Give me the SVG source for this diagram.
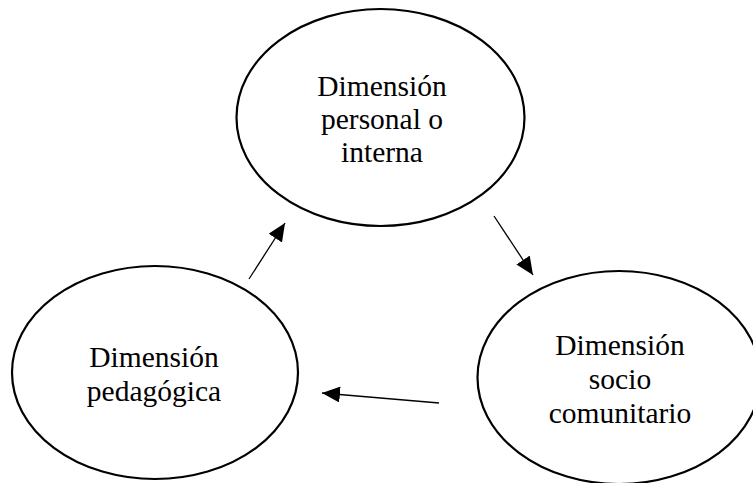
<svg xmlns="http://www.w3.org/2000/svg" width="753" height="483" viewBox="0 0 753 483">
<style>
.node ellipse{fill:#fff;stroke:#000;stroke-width:2.2}
.node text{font-family:"Liberation Serif","Times New Roman",serif;font-size:29.5px;fill:#000;text-anchor:middle}
.conn line{stroke:#000;stroke-width:1.3;marker-end:url(#ah)}
</style>
<defs>
<marker id="ah" markerUnits="userSpaceOnUse" markerWidth="18" markerHeight="16" refX="18" refY="8" orient="auto">
<path d="M0,0 L18,8 L0,16 z" fill="#000"/>
</marker>
</defs>
<rect width="753" height="483" fill="#fff"/>
<g id="n-personal" class="node">
<ellipse cx="380.5" cy="117.5" rx="144" ry="108.5"/>
<text x="382" y="96">Dimensión</text>
<text x="382" y="129">personal o</text>
<text x="382" y="162">interna</text>
</g>
<g id="n-pedagogica" class="node">
<ellipse cx="155" cy="372.5" rx="143" ry="106.5"/>
<text x="154" y="367">Dimensión</text>
<text x="154" y="401">pedagógica</text>
</g>
<g id="n-socio" class="node">
<ellipse cx="619" cy="377.5" rx="141.5" ry="106.5"/>
<text x="620" y="355">Dimensión</text>
<text x="620" y="389">socio</text>
<text x="620" y="423">comunitario</text>
</g>
<g id="connectors" class="conn">
<line x1="249" y1="279" x2="285" y2="223"/>
<line x1="494" y1="216" x2="533" y2="275"/>
<line x1="439" y1="403" x2="322" y2="393"/>
</g>
</svg>
